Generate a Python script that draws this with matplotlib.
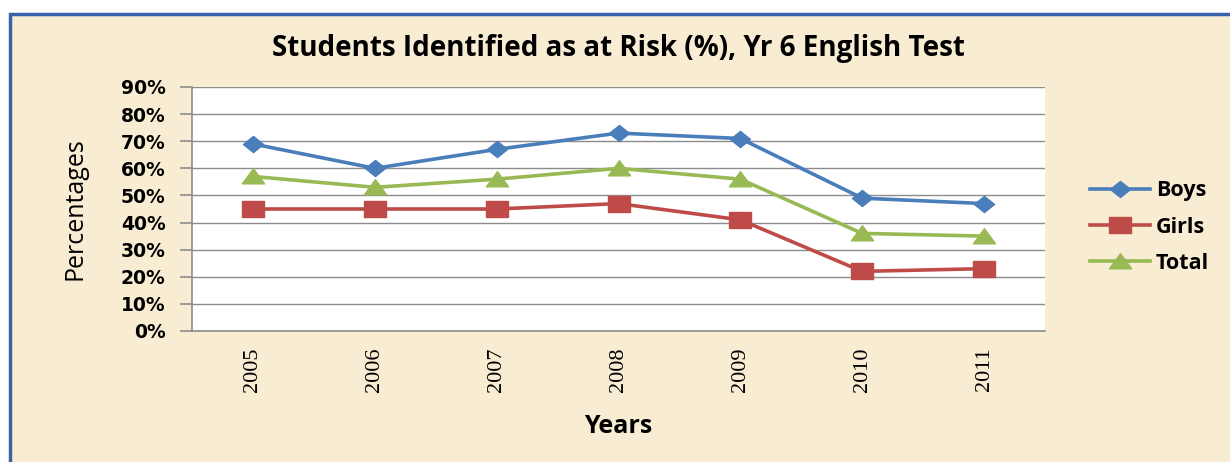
import matplotlib
matplotlib.use("Agg")
import matplotlib.pyplot as plt
from matplotlib.patches import Rectangle
from matplotlib.path import Path
from matplotlib.ticker import FuncFormatter

years = ["2005", "2006", "2007", "2008", "2009", "2010", "2011"]
boys = [69, 60, 67, 73, 71, 49, 47]
girls = [45, 45, 45, 47, 41, 22, 23]
total = [57, 53, 56, 60, 56, 36, 35]

bg = "#f8ecd3"
grid_col = "#8c8c8c"

# the source picture is stretched sideways, so markers are wider than tall
diamond = Path([(-0.5, 0), (0, 0.4), (0.5, 0), (0, -0.4), (-0.5, 0)], closed=True)
square = Path([(-0.5, -0.36), (0.5, -0.36), (0.5, 0.36), (-0.5, 0.36), (-0.5, -0.36)], closed=True)
triangle = Path([(-0.5, -0.33), (0.5, -0.33), (0, 0.35), (-0.5, -0.33)], closed=True)

fig = plt.figure(figsize=(12.3, 4.62), dpi=100)
fig.patch.set_facecolor("white")
# parchment panel with blue frame, cut off at right and bottom
fig.patches.append(Rectangle((10 / 1230, -0.05), 1.1, 1 - 14 / 462 + 0.05,
                             transform=fig.transFigure, facecolor=bg,
                             edgecolor="#3a62a8", linewidth=2.5, zorder=-10))

ax = fig.add_axes([192 / 1230, 1 - 331 / 462, 853 / 1230, 244 / 462])
ax.set_facecolor("white")

x = list(range(len(years)))
ax.plot(x, boys, color="#4a7ebb", lw=2.6, marker=diamond, ms=14.5, label="Boys")
ax.plot(x, girls, color="#be4b48", lw=2.6, marker=square, ms=16, label="Girls")
ax.plot(x, total, color="#98b954", lw=2.6, marker=triangle, ms=16, label="Total")

ax.set_xlim(-0.5, len(years) - 0.5)
ax.set_ylim(0, 90)
ax.set_yticks(range(0, 91, 10))
ax.yaxis.set_major_formatter(FuncFormatter(lambda v, p: f"{int(v)}%"))
ax.grid(axis="y", color=grid_col, lw=1)
ax.set_axisbelow(True)

for s in ["top", "right"]:
    ax.spines[s].set_visible(False)
for s in ["left", "bottom"]:
    ax.spines[s].set_color(grid_col)
    ax.spines[s].set_linewidth(1.2)

ax.set_xticks(x)
ax.set_xticklabels(years, rotation=90, family="Liberation Serif", fontsize=16)
ax.tick_params(axis="x", length=0, pad=12)
ax.tick_params(axis="y", length=9, color=grid_col, width=1.2, pad=10)
for t in ax.get_yticklabels():
    t.set_family("DejaVu Sans")
    t.set_fontweight("bold")
    t.set_fontsize(13.5)

ax.set_title("Students Identified as at Risk (%), Yr 6 English Test",
             fontsize=20, fontweight="bold", family="Open Sans", pad=22)
ax.set_xlabel("Years", fontsize=18, fontweight="bold", family="Open Sans",
              labelpad=16)
ax.set_ylabel("Percentages", fontsize=18, family="Open Sans", labelpad=24)

leg = ax.legend(loc="center left", bbox_to_anchor=(1.053, 0.426), frameon=False,
                prop={"family": "Open Sans", "weight": "bold", "size": 15.5},
                handlelength=2.8, labelspacing=0.7, handletextpad=0.25,
                borderpad=0, borderaxespad=0)

fig.savefig("out.png", dpi=100, facecolor=fig.get_facecolor())
